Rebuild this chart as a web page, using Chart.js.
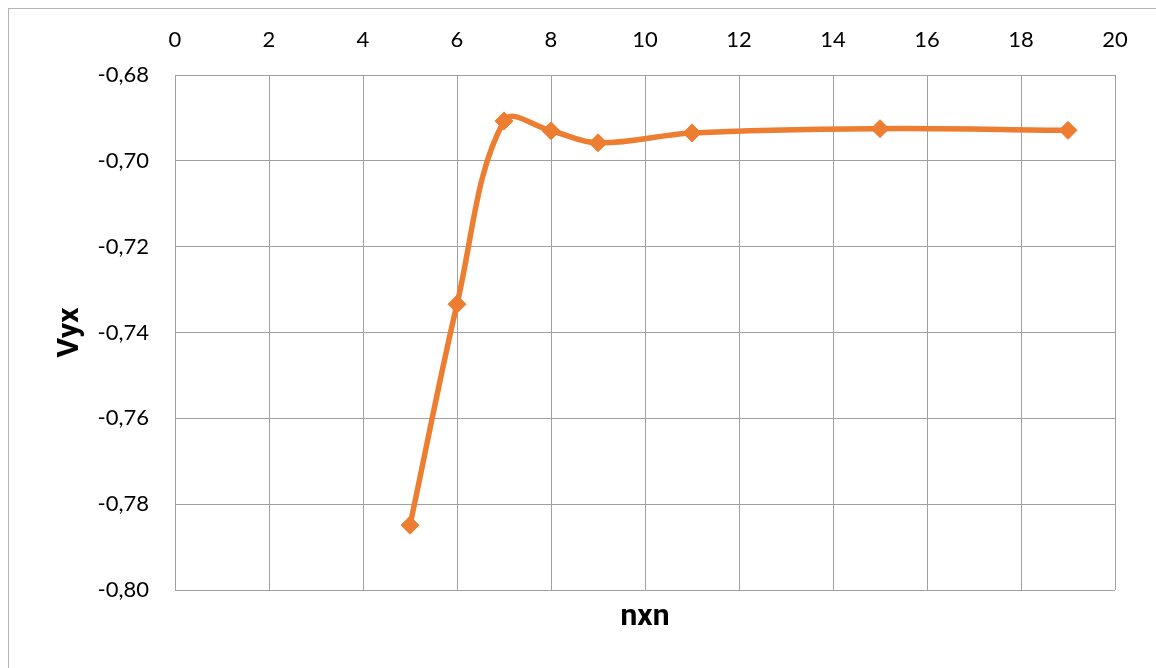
<!DOCTYPE html>
<html>
<head>
<meta charset="utf-8">
<style>
  html, body { margin: 0; padding: 0; background: #fff; }
  #vyxChart { display: block; }
</style>
<script src="https://cdn.jsdelivr.net/npm/chart.js@4/dist/chart.umd.min.js"></script>
</head>
<body>
<canvas id="vyxChart" width="1156" height="668"></canvas>
<script>
(() => {
    'use strict';

    // grid size n (nxn) and the measured Vyx
    const nValues = [5, 6, 7, 8, 9, 11, 15, 19];
    const vyxValues = [-0.7849, -0.7334, -0.6907, -0.6930, -0.6958, -0.6935, -0.6925, -0.6929];

    const xRange = [0, 20];
    const yRange = [-0.80, -0.68];

    const orange = '#ED7D31';
    const grid = '#a0a0a0';
    const tickFont = { family: 'Lato', size: 22 };
    const titleFont = { family: 'Roboto', size: 30, weight: 'bold' };

    const frame = {
        id: 'frame',
        beforeDraw(chart) {
            const ctx = chart.ctx;
            ctx.save();
            ctx.strokeStyle = '#b4b4b4';
            ctx.lineWidth = 1;
            ctx.strokeRect(8.5, 8.5, chart.width + 20, chart.height + 20);
            ctx.restore();
        }
    };

    new Chart(document.getElementById('vyxChart'), {
        type: 'scatter',
        data: {
            datasets: [{
                data: nValues.map((n, i) => ({ x: n, y: vyxValues[i] })),
                showLine: true,
                borderColor: orange,
                backgroundColor: orange,
                borderWidth: 5.5,
                tension: 0.38,
                pointStyle: 'rectRot',
                pointRadius: 9,
                pointBorderWidth: 1,
                pointBorderColor: orange,
                pointBackgroundColor: orange
            }]
        },
        options: {
            responsive: false,
            animation: false,
            layout: { padding: { left: 0, top: 0, right: 41, bottom: 0 } },
            plugins: { legend: { display: false }, tooltip: { enabled: false } },
            scales: {
                x: {
                    type: 'linear',
                    position: 'top',
                    min: xRange[0],
                    max: xRange[1],
                    ticks: { stepSize: 2, font: tickFont, color: '#000', padding: 22 },
                    grid: { color: grid, drawTicks: false },
                    border: { color: grid },
                    afterFit: s => { s.height = 75; }
                },
                x2: {
                    type: 'linear',
                    axis: 'x',
                    position: 'bottom',
                    min: xRange[0],
                    max: xRange[1],
                    ticks: { display: false },
                    grid: { display: false, drawTicks: false },
                    border: { display: false },
                    title: { display: true, text: 'nxn', font: titleFont, color: '#000', padding: { top: 0, bottom: 33 } },
                    afterFit: s => { s.height = 78; }
                },
                y: {
                    min: yRange[0],
                    max: yRange[1],
                    ticks: {
                        stepSize: 0.02,
                        font: tickFont,
                        color: '#000',
                        padding: 26,
                        callback: v => v.toFixed(2).replace('.', ',')
                    },
                    grid: { color: grid, drawTicks: false },
                    border: { color: grid },
                    title: { display: true, text: 'Vyx', font: titleFont, color: '#000', padding: { top: 52, bottom: 0 } },
                    afterFit: s => { s.width = 175; }
                }
            }
        },
        plugins: [frame]
    });
})();
</script>
</body>
</html>
